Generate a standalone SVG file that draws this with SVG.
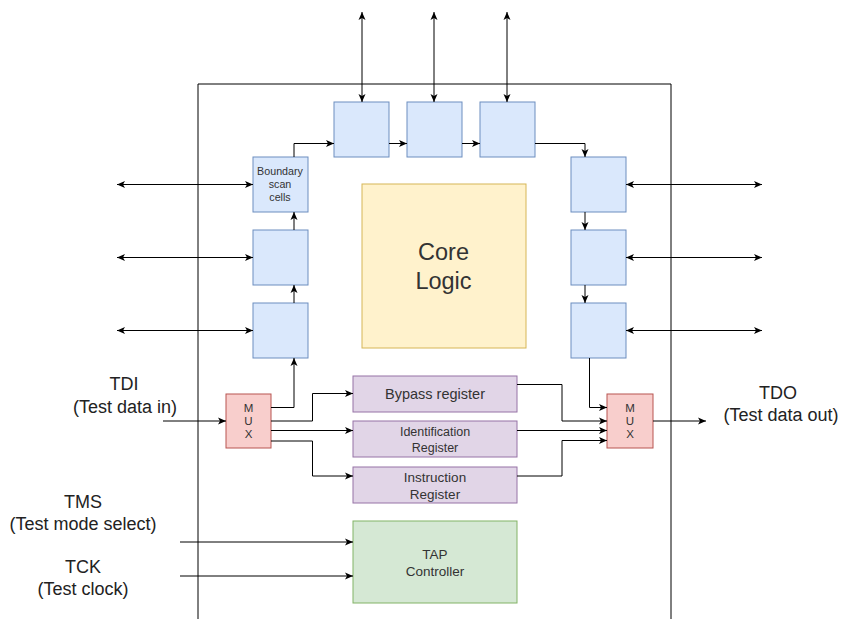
<svg xmlns="http://www.w3.org/2000/svg" width="841" height="619" viewBox="0 0 841 619">
<defs>
<marker id="arr" viewBox="0 0 8 8" refX="8" refY="4" markerWidth="8" markerHeight="8" markerUnits="userSpaceOnUse" orient="auto-start-reverse">
<path d="M0,0.5 L8,4 L0,7.5 L2,4 z" fill="#000"/>
</marker>
</defs>
<style>
text{font-family:"Liberation Sans",Arial,sans-serif;text-anchor:middle;dominant-baseline:central;fill:#333}
.lbl{font-size:18px;fill:#222}
.cell{fill:#dae8fc;stroke:#6c8ebf;stroke-width:1}
.mux{fill:#f8cecc;stroke:#b85450;stroke-width:1}
.reg{fill:#e1d5e7;stroke:#9673a6;stroke-width:1}
.c{fill:none;stroke:#000;stroke-width:1}
.e{marker-end:url(#arr)}
.b{marker-start:url(#arr);marker-end:url(#arr)}
</style>
<rect width="841" height="619" fill="#fff"/>
<g id="chip">
<path d="M198,619 V84 H671 V619" fill="none" stroke="#000" stroke-width="1"/>
</g>
<g id="core">
<rect x="362" y="184" width="164" height="164" fill="#fff2cc" stroke="#d6b656"/>
<text x="443.5" y="252" font-size="23.5" fill="#222">Core</text>
<text x="443.5" y="281" font-size="23.5" fill="#222">Logic</text>
</g>
<g id="cellT1"><rect class="cell" x="334" y="102" width="55" height="55"/></g>
<g id="cellT2"><rect class="cell" x="407" y="102" width="55" height="55"/></g>
<g id="cellT3"><rect class="cell" x="480" y="102" width="55" height="55"/></g>
<g id="cellL1"><rect class="cell" x="253" y="157" width="55" height="55"/>
<text x="280" y="171" font-size="10.7">Boundary</text>
<text x="280" y="184" font-size="10.7">scan</text>
<text x="280" y="197" font-size="10.7">cells</text></g>
<g id="cellL2"><rect class="cell" x="253" y="230" width="55" height="55"/></g>
<g id="cellL3"><rect class="cell" x="253" y="303" width="55" height="55"/></g>
<g id="cellR1"><rect class="cell" x="571" y="157" width="55" height="55"/></g>
<g id="cellR2"><rect class="cell" x="571" y="230" width="55" height="55"/></g>
<g id="cellR3"><rect class="cell" x="571" y="303" width="55" height="55"/></g>
<g id="muxIn"><rect class="mux" x="226" y="394" width="45" height="54"/>
<text x="248.5" y="408" font-size="11.5">M</text>
<text x="248.5" y="421" font-size="11.5">U</text>
<text x="248.5" y="434" font-size="11.5">X</text></g>
<g id="muxOut"><rect class="mux" x="607" y="394" width="46" height="54"/>
<text x="630" y="408" font-size="11.5">M</text>
<text x="630" y="421" font-size="11.5">U</text>
<text x="630" y="434" font-size="11.5">X</text></g>
<g id="bypass"><rect class="reg" x="353" y="376" width="164" height="36"/>
<text x="435" y="394" font-size="14.5">Bypass register</text></g>
<g id="idreg"><rect class="reg" x="353" y="421" width="164" height="36"/>
<text x="435" y="432" font-size="12.5">Identification</text>
<text x="435" y="447.5" font-size="12.5">Register</text></g>
<g id="instr"><rect class="reg" x="353" y="467" width="164" height="36"/>
<text x="435" y="477.5" font-size="13.5">Instruction</text>
<text x="435" y="494" font-size="13.5">Register</text></g>
<g id="tap"><rect x="353" y="521" width="164" height="82" fill="#d5e8d4" stroke="#82b366"/>
<text x="435" y="554" font-size="13.5">TAP</text>
<text x="435" y="571" font-size="13.5">Controller</text></g>
<g id="labels">
<text class="lbl" x="124" y="383.5">TDI</text>
<text class="lbl" x="125" y="406.5">(Test data in)</text>
<text class="lbl" x="778" y="393">TDO</text>
<text class="lbl" x="781" y="415">(Test data out)</text>
<text class="lbl" x="83" y="501.5">TMS</text>
<text class="lbl" x="83" y="524">(Test mode select)</text>
<text class="lbl" x="83" y="566.5">TCK</text>
<text class="lbl" x="83" y="589">(Test clock)</text>
</g>
<g id="connectors">
<line class="c b" x1="362" y1="12" x2="362" y2="102"/>
<line class="c b" x1="434" y1="12" x2="434" y2="102"/>
<line class="c b" x1="507" y1="12" x2="507" y2="102"/>
<line class="c b" x1="117" y1="184.5" x2="253" y2="184.5"/>
<line class="c b" x1="117" y1="257.5" x2="253" y2="257.5"/>
<line class="c b" x1="117" y1="330.5" x2="253" y2="330.5"/>
<line class="c b" x1="626" y1="184.5" x2="762" y2="184.5"/>
<line class="c b" x1="626" y1="257.5" x2="762" y2="257.5"/>
<line class="c b" x1="626" y1="330.5" x2="762" y2="330.5"/>
<line class="c e" x1="294" y1="303" x2="294" y2="285"/>
<line class="c e" x1="294" y1="230" x2="294" y2="212"/>
<path class="c e" d="M294,157 V143.5 H334"/>
<line class="c e" x1="389" y1="143.5" x2="407" y2="143.5"/>
<line class="c e" x1="462" y1="143.5" x2="480" y2="143.5"/>
<path class="c e" d="M535,143.5 H585 V157"/>
<line class="c e" x1="585" y1="212" x2="585" y2="230"/>
<line class="c e" x1="585" y1="285" x2="585" y2="303"/>
<line class="c e" x1="163" y1="421" x2="226" y2="421"/>
<path class="c e" d="M271,407.5 H294 V358"/>
<path class="c e" d="M271,421 H312.5 V393.5 H353"/>
<line class="c e" x1="271" y1="430.5" x2="353" y2="430.5"/>
<path class="c e" d="M271,441 H312.5 V476 H353"/>
<path class="c e" d="M589.5,358 V407.5 H607"/>
<path class="c e" d="M517,384.5 H562 V421 H607"/>
<line class="c e" x1="517" y1="430.5" x2="607" y2="430.5"/>
<path class="c e" d="M517,476 H562 V440.5 H607"/>
<line class="c e" x1="653" y1="421" x2="706" y2="421"/>
<line class="c e" x1="180" y1="542" x2="353" y2="542"/>
<line class="c e" x1="180" y1="576" x2="353" y2="576"/>
</g>
</svg>
